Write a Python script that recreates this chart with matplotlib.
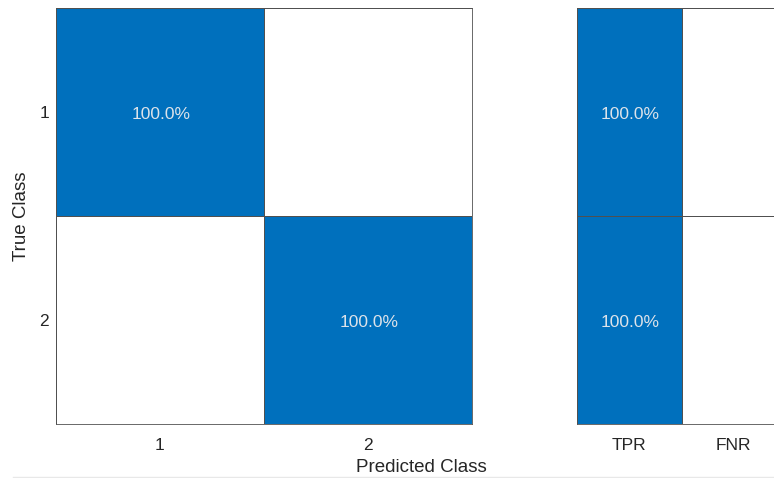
import numpy as np
import matplotlib
matplotlib.use("Agg")
import matplotlib.pyplot as plt
from matplotlib.colors import ListedColormap

plt.rcParams['font.family'] = ['Liberation Sans', 'DejaVu Sans']

classes = ["1", "2"]
conf_pct = np.array([[100.0, 0.0],
                     [0.0, 100.0]])
rate_labels = ["TPR", "FNR"]
rate_pct = np.array([[100.0, 0.0],
                     [100.0, 0.0]])

blue = "#0070BD"
cmap = ListedColormap(["white", blue])
edge = "#505050"
txtcol = "#dde3ea"

fig = plt.figure(figsize=(7.74, 4.78), dpi=100)
W, H = 774, 478
ax1 = fig.add_axes([56 / W, 1 - 424 / H, 416 / W, 416 / H])
ax2 = fig.add_axes([577 / W, 1 - 424 / H, 209 / W, 416 / H])


def draw(ax, data, xlabels, ylabels):
    n_r, n_c = data.shape
    ax.pcolormesh(np.arange(n_c + 1) - 0.5, np.arange(n_r + 1) - 0.5,
                  (data > 0).astype(float), cmap=cmap, vmin=0, vmax=1,
                  edgecolors=edge, linewidth=0.5)
    ax.set_xlim(-0.5, n_c - 0.5)
    ax.set_ylim(n_r - 0.5, -0.5)
    for i in range(n_r):
        for j in range(n_c):
            if data[i, j] > 0:
                ax.text(j + 0.005, i + 0.01, f"{data[i, j]:.1f}%", ha="center", va="center",
                        color=txtcol, fontsize=12.5)
    ax.set_xticks(range(n_c))
    ax.set_xticklabels(xlabels)
    ax.tick_params(length=0, labelsize=12.5, colors="#262626", pad=10)
    if ylabels is not None:
        ax.set_yticks(range(n_r))
        ax.set_yticklabels(ylabels)
        ax.tick_params(axis="y", pad=5)
    else:
        ax.set_yticks([])
    for s in ax.spines.values():
        s.set_color(edge)
        s.set_linewidth(0.6)


draw(ax1, conf_pct, classes, classes)
draw(ax2, rate_pct, rate_labels, None)
fig.text(22 / W, 1 - 216 / H, "True Class", ha="center", va="center",
         rotation=90, fontsize=13.5, color="#262626")

fig.text(421 / W, 1 - 467 / H, "Predicted Class", ha="center", va="center",
         fontsize=13.5, color="#262626")
fig.add_artist(plt.Line2D([13 / W, 1], [1 - 477 / H, 1 - 477 / H],
                          transform=fig.transFigure, color="#e8e8e8", lw=1))

fig.savefig("out.png", dpi=100)
